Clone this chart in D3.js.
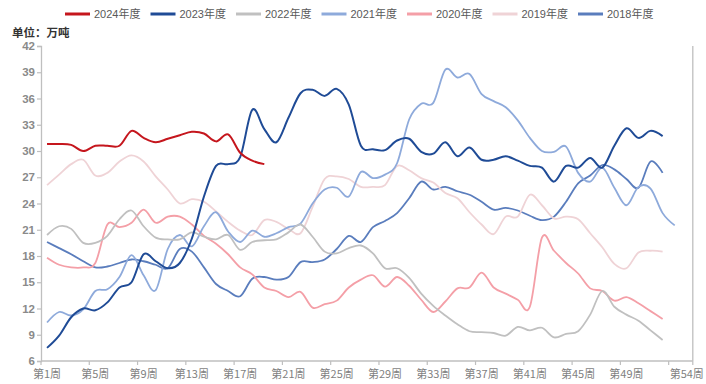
<!DOCTYPE html>
<html>
<head>
<meta charset="utf-8">
<script src="https://cdn.jsdelivr.net/npm/d3@7"></script>
<style>
  body { margin: 0; background: #fff; }
  svg { display: block; font-family: "Liberation Sans", "Noto Sans CJK SC", sans-serif; }
</style>
</head>
<body>
<svg id="chart"></svg>
<script>
const years = ["2024年度", "2023年度", "2022年度", "2021年度", "2020年度", "2019年度", "2018年度"];
const colors = ["#c5161d", "#1f4b96", "#c0c0c0", "#8eaadb", "#f49fa7", "#efd3d6", "#5a7dbd"];

// weekly values, 万吨, starting at 第1周
const s2024 = [30.8, 30.8, 30.7, 30.0, 30.6, 30.6, 30.6, 32.3, 31.5, 31.0, 31.4, 31.8, 32.2, 32.0, 31.1, 31.9, 29.8, 28.9, 28.5];
const s2023 = [7.5, 8.9, 11.0, 12.0, 11.8, 12.7, 14.4, 15.0, 18.2, 17.4, 16.6, 17.2, 20.0, 24.8, 28.3, 28.5, 29.3, 34.7, 32.5, 31.0,
               33.8, 36.6, 37.0, 36.3, 37.1, 35.3, 30.6, 30.2, 30.1, 31.2, 31.4, 29.9, 29.7, 31.0, 29.4, 30.4, 29.0, 29.0, 29.4, 28.9,
               28.3, 28.1, 26.5, 28.3, 28.1, 29.2, 28.1, 30.6, 32.6, 31.5, 32.3, 31.7];
const s2022 = [20.4, 21.4, 21.1, 19.5, 19.5, 20.3, 22.2, 23.2, 21.4, 20.1, 19.9, 19.9, 20.7, 20.2, 19.9, 20.4, 18.7, 19.6, 19.8, 19.9,
               20.7, 21.6, 20.2, 18.5, 18.3, 18.9, 19.2, 18.3, 16.6, 16.6, 15.5, 13.7, 12.3, 11.2, 10.2, 9.4, 9.3, 9.2, 8.9, 9.9,
               9.5, 9.8, 8.7, 9.1, 9.4, 11.3, 14.0, 12.2, 11.3, 10.6, 9.5, 8.4];
const s2021 = [10.4, 11.6, 11.2, 11.9, 14.0, 14.2, 15.6, 18.1, 15.8, 14.1, 18.8, 20.4, 19.1, 21.4, 23.0, 20.8, 19.6, 20.9, 20.2, 20.6,
               21.3, 21.7, 24.0, 25.6, 25.8, 24.8, 27.6, 26.9, 27.3, 28.6, 33.6, 35.4, 35.5, 39.3, 38.4, 38.8, 36.5, 35.7, 35.0, 33.5,
               31.5, 30.0, 29.9, 30.5, 27.5, 26.5, 28.1, 25.8, 23.8, 25.9, 25.7, 22.9, 21.5];
const s2020 = [17.8, 17.0, 16.7, 16.7, 17.2, 21.6, 21.3, 21.8, 23.3, 21.8, 22.5, 22.5, 21.6, 20.3, 19.4, 18.2, 16.7, 15.9, 14.4, 14.0,
               13.3, 13.9, 12.1, 12.5, 12.9, 14.4, 15.3, 15.8, 14.5, 15.6, 14.6, 13.0, 11.6, 12.8, 14.3, 14.4, 16.1, 14.4, 13.7, 13.0,
               12.2, 20.1, 18.6, 17.2, 16.0, 14.3, 14.0, 12.9, 13.3, 12.6, 11.7, 10.8];
const s2019 = [26.1, 27.3, 28.5, 29.0, 27.2, 27.5, 28.8, 29.5, 28.8, 27.1, 25.6, 24.0, 24.5, 24.2, 23.1, 21.9, 20.9, 20.4, 22.1, 21.9,
               21.1, 20.6, 23.6, 26.8, 27.1, 26.8, 25.9, 25.9, 26.1, 28.3, 27.8, 26.9, 26.4, 25.2, 24.6, 23.0, 21.6, 20.5, 22.5, 22.5,
               25.0, 23.8, 22.3, 22.5, 22.2, 20.6, 19.0, 17.1, 16.6, 18.4, 18.6, 18.5];
const s2018 = [19.6, 18.9, 18.2, 17.4, 16.7, 16.8, 17.2, 17.6, 17.4, 17.0, 16.6, 18.8, 18.5, 16.7, 14.8, 14.0, 13.4, 15.4, 15.6, 15.3,
               15.6, 17.3, 17.3, 17.6, 18.8, 20.3, 19.6, 21.3, 22.0, 22.9, 24.6, 26.5, 25.6, 25.9, 25.4, 25.0, 24.2, 23.3, 23.5, 23.2,
               22.6, 22.1, 22.5, 24.2, 26.3, 27.2, 28.4, 27.9, 26.8, 25.8, 28.8, 27.5];
const seriesValues = [s2024, s2023, s2022, s2021, s2020, s2019, s2018];

const weeks = d3.range(1, 55).map(w => "第" + w + "周");
const tickWeeks = ["第1周", "第5周", "第9周", "第13周", "第17周", "第21周", "第25周", "第29周", "第33周", "第37周", "第41周", "第45周", "第49周", "第53周"];
const labelWeeks = ["第1周", "第5周", "第9周", "第13周", "第17周", "第21周", "第25周", "第29周", "第33周", "第37周", "第41周", "第45周", "第49周", "第54周"];
const yTicks = [6, 9, 12, 15, 18, 21, 24, 27, 30, 33, 36, 39, 42];
const unitLabel = "单位：万吨";

const width = 706, height = 384;
const plot = { left: 41, right: 692.8, top: 46, bottom: 361 };

const svg = d3.select("#chart").attr("width", width).attr("height", height);

const x = d3.scaleBand().domain(weeks).range([plot.left, plot.right]);
const cx = w => x(w) + x.bandwidth() / 2;
const y = d3.scaleLinear().domain([6, 42]).range([plot.bottom, plot.top]);

//right border of plot area
svg.append("line")
    .attr("x1", plot.right).attr("x2", plot.right)
    .attr("y1", plot.top).attr("y2", plot.bottom)
    .style("stroke", "#bfbfbf").style("stroke-width", 1.3);

//x axis: ticks on band edges, labels on band centres
const xAxisG = svg.append("g");
xAxisG.append("line")
    .attr("x1", plot.left).attr("x2", plot.right)
    .attr("y1", plot.bottom).attr("y2", plot.bottom)
    .style("stroke", "#bfbfbf").style("stroke-width", 1.3);
xAxisG.selectAll("line.tick")
    .data(tickWeeks.concat([weeks[weeks.length - 1]]))
    .enter().append("line")
    .attr("class", "tick")
    .attr("x1", (d, i) => i < tickWeeks.length ? x(d) : plot.right)
    .attr("x2", (d, i) => i < tickWeeks.length ? x(d) : plot.right)
    .attr("y1", plot.bottom).attr("y2", plot.bottom + 4)
    .style("stroke", "#bfbfbf").style("stroke-width", 1.2);
xAxisG.selectAll("text")
    .data(labelWeeks)
    .enter().append("text")
    .attr("x", d => cx(d))
    .attr("y", plot.bottom + 17)
    .attr("text-anchor", "middle")
    .style("font-family", "'Noto Sans CJK SC', sans-serif")
    .style("font-size", "11px")
    .style("fill", "#7f7f7f")
    .text(d => d);

//y axis
const yAxis = d3.axisLeft(y).tickValues(yTicks).tickSize(4).tickPadding(2);
const yAxisG = svg.append("g").attr("transform", `translate(${plot.left},0)`);
yAxis(yAxisG);
yAxisG.select(".domain").style("stroke", "#bfbfbf").style("stroke-width", 1.3);
yAxisG.selectAll(".tick line").style("stroke", "#bfbfbf").style("stroke-width", 1.2);
yAxisG.selectAll(".tick text")
    .style("font-family", "'Liberation Sans', sans-serif")
    .style("font-size", "11.5px")
    .style("font-weight", "bold")
    .style("fill", "#8a8a8a");

//unit label
svg.append("text")
    .attr("x", 12).attr("y", 37)
    .style("font-family", "'Noto Sans CJK SC', sans-serif")
    .style("font-size", "11.5px")
    .style("font-weight", "bold")
    .style("fill", "#333")
    .text(unitLabel);

//lines, 2018 first so the newer years sit on top
const line = d3.line()
    .x((d, i) => cx(weeks[i]))
    .y(d => y(d))
    .curve(d3.curveCardinal.tension(0));

const order = d3.range(seriesValues.length).reverse();
svg.append("g").selectAll("path")
    .data(order)
    .enter().append("path")
    .attr("d", i => line(seriesValues[i]))
    .style("fill", "none")
    .style("stroke", i => colors[i])
    .style("stroke-width", i => i < 2 ? 2 : 1.8);

//legend
const legend = svg.append("g").selectAll("g")
    .data(years)
    .enter().append("g")
    .attr("transform", (d, i) => `translate(${65 + i * 85.5},14)`);
legend.append("line")
    .attr("x1", 0).attr("x2", 25)
    .style("stroke", (d, i) => colors[i])
    .style("stroke-width", 3);
legend.append("text")
    .attr("x", 29).attr("y", 4)
    .style("font-size", "11px")
    .style("fill", "#595959")
    .text(d => d);
</script>
</body>
</html>
